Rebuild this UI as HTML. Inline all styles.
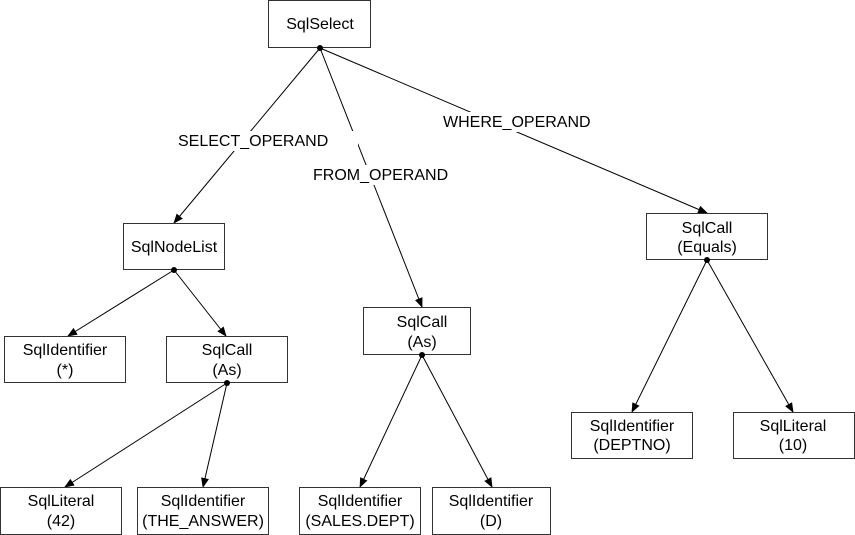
<!DOCTYPE html>
<html><head><style>
body{margin:0;width:855px;height:535px;background:#fff;overflow:hidden}
svg{display:block}
text{font-family:"Liberation Sans",Arial,sans-serif;font-size:16px;fill:#000}
rect.n{fill:#fff;stroke:#333;stroke-width:1}
rect.l{fill:#fff;stroke:none}
line{stroke:#000;stroke-width:1}
</style></head><body>
<svg width="855" height="535" viewBox="0 0 855 535">
<defs><marker id="a" markerWidth="10" markerHeight="8" refX="9" refY="4" orient="auto" markerUnits="userSpaceOnUse"><path d="M0,0 L10,4 L0,8 z" fill="#000"/></marker></defs>
<g marker-end="url(#a)">
<line x1="320" y1="48" x2="174" y2="223"/>
<line x1="320" y1="48" x2="422" y2="307"/>
<line x1="320" y1="48" x2="707" y2="213"/>
<line x1="174" y1="270" x2="68" y2="336"/>
<line x1="174" y1="270" x2="226" y2="336"/>
<line x1="227" y1="383" x2="65" y2="487"/>
<line x1="227" y1="383" x2="203" y2="487"/>
<line x1="422" y1="355" x2="360" y2="487"/>
<line x1="422" y1="355" x2="492" y2="487"/>
<line x1="707" y1="260" x2="632" y2="412"/>
<line x1="707" y1="260" x2="793" y2="412"/>
</g>
<rect class="l" x="178" y="131" width="180" height="20"/>
<text x="178" y="146">SELECT_OPERAND</text>
<rect class="l" x="313" y="165" width="135" height="20"/>
<text x="313" y="180">FROM_OPERAND</text>
<rect class="l" x="443" y="112" width="148" height="20"/>
<text x="443" y="127">WHERE_OPERAND</text>
<g text-anchor="middle">
<rect class="n" x="268.5" y="0.5" width="102" height="47"/><text x="320" y="29">SqlSelect</text>
<rect class="n" x="123.5" y="223.5" width="101" height="46"/><text x="174" y="252">SqlNodeList</text>
<rect class="n" x="4.5" y="336.5" width="121" height="46"/><text x="65" y="355">SqlIdentifier</text><text x="65" y="375">(*)</text>
<rect class="n" x="166.5" y="336.5" width="121" height="46"/><text x="227" y="355">SqlCall</text><text x="227" y="375">(As)</text>
<rect class="n" x="363.5" y="307.5" width="107" height="47"/><text x="422" y="327">SqlCall</text><text x="422" y="347">(As)</text>
<rect class="n" x="646.5" y="213.5" width="121" height="46"/><text x="707" y="233">SqlCall</text><text x="707" y="252">(Equals)</text>
<rect class="n" x="571.5" y="412.5" width="121" height="46"/><text x="632" y="431">SqlIdentifier</text><text x="632" y="450">(DEPTNO)</text>
<rect class="n" x="733.5" y="412.5" width="121" height="46"/><text x="793" y="431">SqlLiteral</text><text x="793" y="450">(10)</text>
<rect class="n" x="0.5" y="487.5" width="121" height="47"/><text x="61" y="506">SqlLiteral</text><text x="61" y="526">(42)</text>
<rect class="n" x="137.5" y="487.5" width="131" height="47"/><text x="203" y="506">SqlIdentifier</text><text x="203" y="526">(THE_ANSWER)</text>
<rect class="n" x="299.5" y="487.5" width="121" height="47"/><text x="360" y="506">SqlIdentifier</text><text x="360" y="526">(SALES.DEPT)</text>
<rect class="n" x="432.5" y="487.5" width="118" height="47"/><text x="491" y="506">SqlIdentifier</text><text x="491" y="526">(D)</text>
</g>
<g fill="#000">
<circle cx="320" cy="48" r="3"/><circle cx="174" cy="270" r="3"/><circle cx="227" cy="383" r="3"/>
<circle cx="422" cy="355" r="3"/><circle cx="707" cy="260" r="3"/>
</g>
</svg>
</body></html>
